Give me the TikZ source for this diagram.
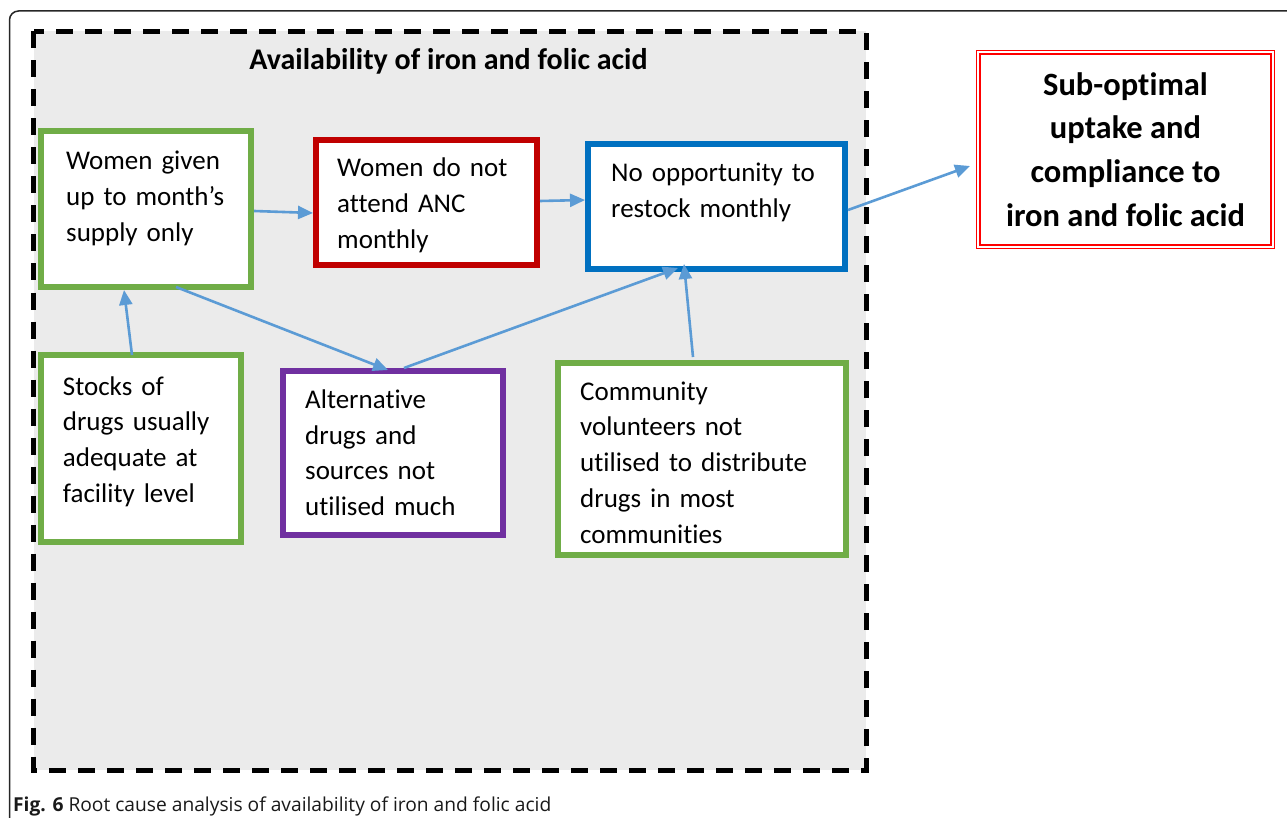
\documentclass[tikz,border=0pt]{standalone}
\usepackage{fontspec}
\setmainfont{Carlito}[Ligatures=NoCommon]
\newfontfamily\capfont{Open Sans}
\usetikzlibrary{arrows.meta}

\definecolor{okgreen}{HTML}{70AD47}
\definecolor{darkred}{HTML}{C00000}
\definecolor{midblue}{HTML}{0070C0}
\definecolor{violet}{HTML}{7030A0}
\definecolor{linkblue}{HTML}{5B9BD5}
\definecolor{panelgray}{HTML}{EBEBEB}
\definecolor{brightred}{HTML}{FF0000}

\begin{document}
\begin{tikzpicture}[x=1pt,y=-1pt,
  causebox/.style={draw=#1, line width=6pt, fill=white, inner sep=0pt},
  boxtext/.style={anchor=base west, inner sep=0pt, align=left, text width=#1,
    font=\fontsize{27}{35.8}\selectfont},
  link/.style={draw=linkblue, line width=2.6pt, -{Triangle[length=15pt,width=13pt]}}]

\useasboundingbox (0,0) rectangle (1287,818);
\clip (0,0) rectangle (1287,818);

% page panel
\draw[line width=1.5pt, black!85, rounded corners=9pt] (9.5,11) rectangle (1300,826);

% dashed group frame
\draw[line width=5pt, dash pattern=on 17pt off 12pt, fill=panelgray] (33.5,31.5) rectangle (866,770);

\node[font=\bfseries\fontsize{30}{36}\selectfont, anchor=base, inner sep=0pt] (title) at (448.5,69.3) {Availability of iron and folic acid};

% cause boxes
\node[causebox=okgreen, minimum width=210pt, minimum height=156pt] (b1) at (146,209) {};
\node[causebox=darkred, minimum width=221pt, minimum height=125pt] (b2) at (426.5,202.5) {};
\node[causebox=midblue, minimum width=257pt, minimum height=125pt] (b3) at (716.5,206.5) {};
\node[causebox=okgreen, minimum width=200pt, minimum height=187pt] (b4) at (141,448.5) {};
\node[causebox=violet, minimum width=220pt, minimum height=164pt] (b5) at (393,453) {};
\node[causebox=okgreen, minimum width=288pt, minimum height=192pt] (b6) at (702,459) {};

\node[boxtext=180pt] (t1) at (66,170) {Women given\\up to month’s\\supply only};
\node[boxtext=190pt] (t2) at (337,176.7) {Women do not\\attend ANC\\monthly};
\node[boxtext=230pt] (t3) at (611,181.7) {No opportunity to\\restock monthly};
\node[boxtext=175pt] (t4) at (62.7,395) {Stocks of\\drugs usually\\adequate at\\facility level};
\node[boxtext=195pt] (t5) at (305,408.3) {Alternative\\drugs and\\sources not\\utilised much};
\node[boxtext=260pt] (t6) at (580,400) {Community\\volunteers not\\utilised to distribute\\drugs in most\\communities};

% outcome box
\node[draw=brightred, line width=1.3pt, double=white, double distance=2pt, fill=white,
  outer sep=0pt, inner sep=0pt, minimum width=294.4pt, minimum height=194.4pt,
  align=center, font=\bfseries\fontsize{32.5}{43.6}\selectfont] (b7) at (1125.5,149.5)
  {Sub-optimal\\uptake and\\compliance to\\iron and folic acid};

% causal links
\draw[link] ([yshift=-2pt]b1.east) -- ([yshift=-10.5pt]b2.west);
\draw[link] ([yshift=1.5pt]b2.east) -- ([yshift=6.5pt]b3.west);
\draw[link] ([yshift=-3.5pt]b3.east) -- ([xshift=-8.3pt,yshift=-16.5pt]b7.west);
\draw[link] ([xshift=-9pt,yshift=-3pt]b4.north) -- ([xshift=-22pt]b1.south);
\draw[link] ([xshift=30pt,yshift=3pt]b1.south) -- ([xshift=-5pt,yshift=-2pt]b5.north);
\draw[link] ([xshift=11pt]b5.north) -- ([xshift=-38.5pt,yshift=4pt]b3.south);
\draw[link] ([xshift=-9pt,yshift=3pt]b6.north) -- ([xshift=-32.5pt,yshift=8pt]b3.south);

% caption
\node[anchor=base west, inner sep=0pt, text=black!90, font=\capfont\fontsize{19.2}{23}\selectfont] (caption) at (13,811)
  {\textbf{Fig. 6} Root cause analysis of availability of iron and folic acid};
\end{tikzpicture}
\end{document}
